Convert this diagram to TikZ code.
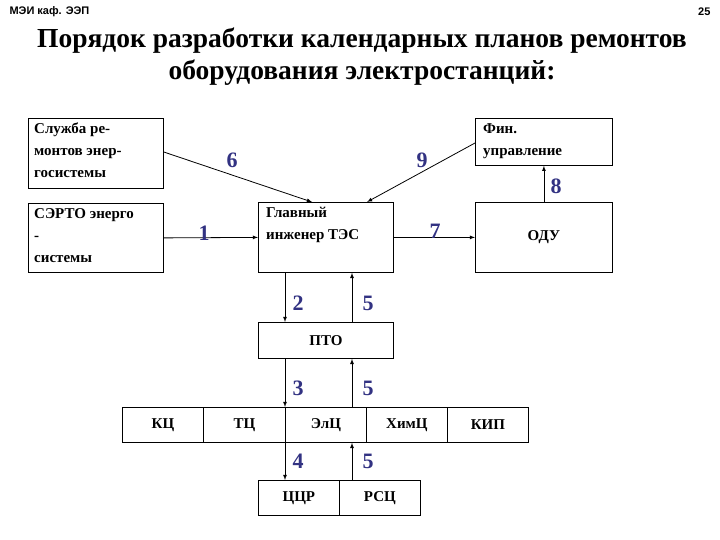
\documentclass[tikz,border=0pt]{standalone}
\usepackage{fontspec}
\setmainfont{Liberation Serif}
\newfontfamily\hdr{Liberation Sans}
\usetikzlibrary{calc}
\definecolor{numblue}{RGB}{50,50,130}
\begin{document}
\begin{tikzpicture}
  [x=1pt,y=-1pt,
   box/.style={draw,thick,anchor=north west,inner sep=0pt,font=\bfseries\fontsize{15}{18}\selectfont},
   txt/.style={anchor=north west,align=left,inner sep=0pt,font=\bfseries\fontsize{15}{22}\selectfont},
   lbl/.style={text=numblue,font=\bfseries\fontsize{22}{24}\selectfont},
   arr/.style={thick,-latex}]

  \useasboundingbox (0,0) rectangle (720,540);

  \node[anchor=west,font=\hdr\bfseries\fontsize{11}{13}\selectfont] (dept) at (6,12) {МЭИ каф. ЭЭП};
  \node[anchor=east,font=\hdr\bfseries\fontsize{11}{13}\selectfont] (page) at (714,12) {25};
  \node[align=center,font=\bfseries\fontsize{27.5}{32}\selectfont] (title) at (362,57)
    {Порядок разработки календарных планов ремонтов\\оборудования электростанций:};

  % upper boxes
  \node[box,minimum width=135,minimum height=70] (sl) at (28,118) {};
  \node[txt] at ($(sl.north west)+(6,5)$) {Служба ре-\\монтов энер-\\госистемы};
  \node[box,minimum width=135,minimum height=69] (se) at (28,203) {};
  \node[txt] at ($(se.north west)+(6,5)$) {СЭРТО энерго\\-\\системы};
  \node[box,minimum width=135,minimum height=70] (gl) at (258,202) {};
  \node[txt] at ($(gl.north west)+(8,5)$) {Главный\\инженер ТЭС};
  \node[box,minimum width=137,minimum height=47] (fin) at (475,118) {};
  \node[txt] at ($(fin.north west)+(8,5)$) {Фин.\\управление};
  \node[box,minimum width=137,minimum height=70] (odu) at (475,202) {ОДУ};
  \node[box,minimum width=135,minimum height=36] (pto) at (258,322) {ПТО};

  % workshops
  \node[box,minimum width=81,minimum height=35] (kc) at (122,407) {КЦ};
  \node[box,minimum width=82,minimum height=35] (tc) at (203,407) {ТЦ};
  \node[box,minimum width=81,minimum height=35] (elc) at (285,407) {ЭлЦ};
  \node[box,minimum width=81,minimum height=35] (xim) at (366,407) {ХимЦ};
  \node[box,minimum width=81,minimum height=35] (kip) at (447,407) {КИП};
  \node[box,minimum width=81,minimum height=35] (ccr) at (258,480) {ЦЦР};
  \node[box,minimum width=81,minimum height=35] (rsc) at (339,480) {РСЦ};

  % connectors
  \draw[arr] (sl.east |- 0,152) -- ($(gl.north west)+(54,0)$);
  \draw[arr] (fin.west |- 0,143) -- ($(gl.north west)+(109,0)$);
  \draw[arr] (se.east) -- (gl.west);
  \draw[arr] (gl.east) -- (odu.west);
  \draw[arr] (odu.north) -- (odu.north |- fin.south);
  \draw[arr] ($(gl.south west)+(27,0)$) -- ($(pto.north west)+(27,0)$);
  \draw[arr] ($(pto.north west)+(94,0)$) -- ($(gl.south west)+(94,0)$);
  \draw[arr] ($(pto.south west)+(27,0)$) -- (elc.north west);
  \draw[arr] ($(elc.north west)+(67,0)$) -- ($(pto.south west)+(94,0)$);
  \draw[arr] (elc.south west) -- ($(ccr.north west)+(27,0)$);
  \draw[arr] ($(rsc.north west)+(13,0)$) -- ($(elc.south west)+(67,0)$);

  % numbers
  \node[lbl] (n6) at (232,160) {6};
  \node[lbl] (n9) at (422,160) {9};
  \node[lbl] (n1) at (204,233) {1};
  \node[lbl] (n7) at (435,231) {7};
  \node[lbl] (n8) at (556,186) {8};
  \node[lbl] (n2) at (298,303) {2};
  \node[lbl] (n5a) at (368,303) {5};
  \node[lbl] (n3) at (298,388) {3};
  \node[lbl] (n5b) at (368,388) {5};
  \node[lbl] (n4) at (298,461) {4};
  \node[lbl] (n5c) at (368,461) {5};
\end{tikzpicture}
\end{document}
